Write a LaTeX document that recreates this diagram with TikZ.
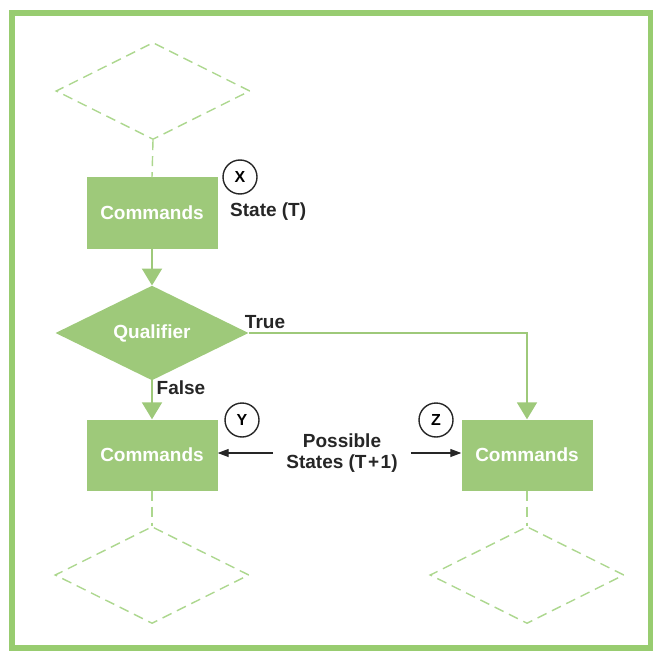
\documentclass[tikz,border=0pt]{standalone}
\usepackage{fontspec}
\setmainfont{Liberation Sans}
\usepackage{tikz}
\usetikzlibrary{shapes.geometric,arrows.meta,positioning,calc}

\definecolor{hpgreen}{RGB}{158,201,122}
\definecolor{framegreen}{RGB}{152,204,112}
\definecolor{dashgreen}{RGB}{172,215,142}

\tikzset{
    cmdbox/.style={rectangle, fill=hpgreen, minimum width=131pt, minimum height=71pt, inner sep=0pt,
        text=white, font=\fontsize{19}{21}\selectfont\bfseries},
    qualbox/.style={diamond, fill=hpgreen, minimum width=193pt, minimum height=91pt, inner sep=0pt,
        text=white, font=\fontsize{19}{21}\selectfont\bfseries},
    ghost/.style={diamond, draw=dashgreen, line width=1.4pt, dash pattern=on 10pt off 6pt,
        minimum width=194pt, minimum height=97pt, inner sep=0pt},
    link/.style={draw=dashgreen, line width=1.4pt, dash pattern=on 10pt off 6pt},
    flow/.style={draw=hpgreen, line width=2pt, -{Triangle[width=20pt,length=17pt]}},
    pointer/.style={draw=black!85, line width=1.2pt, -{Triangle[length=11pt,width=8pt]}},
    statemark/.style={circle, draw=black!85, line width=1.4pt, minimum size=34pt, inner sep=0pt,
        font=\fontsize{16}{18}\selectfont\bfseries},
    lbl/.style={inner sep=0pt, text=black!85, font=\fontsize{19}{21}\selectfont\bfseries}
}

\begin{document}
\begin{tikzpicture}[x=1pt, y=-1pt]
    \useasboundingbox (0,0) rectangle (655,652);
    \draw [framegreen, line width=5.5pt] (12,13) rectangle (650.5,648);

    % state T
    \node [ghost] (prevQ) at (153,91) {};
    \node [cmdbox] (cmdX) at (152,213) {Commands};
    \node [statemark] (markX) at (240,177) {X};
    \node [lbl, anchor=west] (stateT) at (230,212) {State (T)};

    \node [qualbox] (qual) at (152,333) {Qualifier};
    \node [lbl] (trueLbl) at (265,322) {True};
    \node [lbl] (falseLbl) at (181,388) {False};

    % states T+1
    \node [cmdbox] (cmdY) at (152,455) {Commands};
    \node [cmdbox] (cmdZ) at (527,455) {Commands};
    \node [statemark] (markY) at (242,420) {Y};
    \node [statemark] (markZ) at (436,420) {Z};
    \node [lbl, align=center] (poss) at (342,453) {Possible\\States (T\kern1.5pt+\kern1.5pt1)};

    \node [ghost] (nextY) at (152,575) {};
    \node [ghost] (nextZ) at (527,575) {};

    \draw [link] (prevQ.south) -- (cmdX.north);
    \draw [link] (cmdY.south) -- (nextY.north);
    \draw [link] (cmdZ.south) -- (nextZ.north);

    \draw [flow] (cmdX.south) -- (qual.north);
    \draw [flow] (qual.south) -- (cmdY.north);
    \draw [flow] (qual.east) -- (qual.east -| cmdZ.north) -- (cmdZ.north);

    \draw [pointer] ([xshift=-13pt]poss.west) -- (poss.west -| cmdY.east);
    \draw [pointer] ([xshift=13pt]poss.east) -- (poss.east -| cmdZ.west);
\end{tikzpicture}
\end{document}
